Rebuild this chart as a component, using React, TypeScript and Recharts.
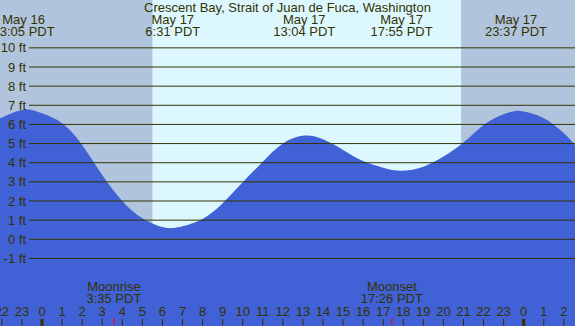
import React from 'react';
import { ComposedChart, Area, XAxis, YAxis, ReferenceArea, ReferenceLine } from 'recharts';

const TITLE = 'Crescent Bay, Strait of Juan de Fuca, Washington';

// tide curve: hours relative to May 17 00:00 PDT, height in ft
const tideHours = [-2.093, -0.917, 0, 1, 2, 3, 4, 5, 6, 6.517, 7, 8, 9, 10, 11, 12, 13.067, 14, 15, 16, 17, 17.917, 19, 20, 21, 22, 23, 23.617, 24, 25, 26, 26.557];
const tideFeet = [6.32, 6.77, 6.58, 6.06, 4.93, 3.36, 2.0, 1.1, 0.64, 0.59, 0.68, 1.06, 1.88, 2.98, 4.05, 5.0, 5.42, 5.22, 4.67, 4.09, 3.74, 3.58, 3.79, 4.32, 5.05, 5.97, 6.53, 6.7, 6.67, 6.32, 5.54, 4.93];

// high / low labels
const extremeHours = [-0.917, 6.517, 13.067, 17.917, 23.617];
const extremeDates = ['May 16', 'May 17', 'May 17', 'May 17', 'May 17'];
const extremeTimes = ['23:05 PDT', '6:31 PDT', '13:04 PDT', '17:55 PDT', '23:37 PDT'];

// moon events
const moonHours = [3.583, 17.433];
const moonNames = ['Moonrise', 'Moonset'];
const moonTimes = ['3:35 PDT', '17:26 PDT'];

// daylight
const sunriseHour = 5.515;
const sunsetHour = 20.88;

// axes
const hourTicks = [-2, -1, 0, 1, 2, 3, 4, 5, 6, 7, 8, 9, 10, 11, 12, 13, 14, 15, 16, 17, 18, 19, 20, 21, 22, 23, 24, 25, 26];
const hourLabels = ['22', '23', '0', '1', '2', '3', '4', '5', '6', '7', '8', '9', '10', '11', '12', '13', '14', '15', '16', '17', '18', '19', '20', '21', '22', '23', '0', '1', '2'];
const ftTicks = [-1, 0, 1, 2, 3, 4, 5, 6, 7, 8, 9, 10];
const ftLabels = ['-1 ft', '0 ft', '1 ft', '2 ft', '3 ft', '4 ft', '5 ft', '6 ft', '7 ft', '8 ft', '9 ft', '10 ft'];

const X_DOMAIN: [number, number] = [-2.093, 26.557];
const Y_DOMAIN: [number, number] = [-4.53, 12.5];
const GRID_START_HOUR = -0.648;

const TEXT = '#333300';
const NIGHT = '#b0c4de';
const DAY = '#ddf7ff';
const WATER = '#4161d6';
const FONT = 13;
const FAMILY = '"Liberation Sans", Arial, sans-serif';

const data = tideHours.map((h, i) => ({ h, ft: tideFeet[i] }));

const HourTick = (props: any) => {
  const { x, y, payload } = props;
  const i = hourTicks.indexOf(payload.value);
  const label = hourLabels[i];
  const thick = label === '0';
  return (
    <g>
      <line x1={x} x2={x} y1={y + 3} y2={y + 10} stroke={TEXT} strokeWidth={thick ? 3 : 1} />
      <text x={x} y={y} textAnchor="middle" fill={TEXT} fontSize={FONT} fontFamily={FAMILY}>{label}</text>
    </g>
  );
};

const MoonTick = (props: any) => {
  const { x, y, payload } = props;
  const i = moonHours.indexOf(payload.value);
  return (
    <g>
      <line x1={x} x2={x} y1={y + 3} y2={y + 10} stroke="#ff0000" strokeWidth={1} />
      <text x={x} y={y - 24} textAnchor="middle" fill={TEXT} fontSize={FONT} fontFamily={FAMILY}>{moonNames[i]}</text>
      <text x={x} y={y - 12} textAnchor="middle" fill={TEXT} fontSize={FONT} fontFamily={FAMILY}>{moonTimes[i]}</text>
    </g>
  );
};

const ExtremeTick = (props: any) => {
  const { x, y, payload } = props;
  const i = extremeHours.indexOf(payload.value);
  return (
    <g>
      <text x={x} y={y + 24} textAnchor="middle" fill={TEXT} fontSize={FONT} fontFamily={FAMILY}>{extremeDates[i]}</text>
      <text x={x} y={y + 36} textAnchor="middle" fill={TEXT} fontSize={FONT} fontFamily={FAMILY}>{extremeTimes[i]}</text>
    </g>
  );
};

export default function App() {
  return (
    <div style={{ position: 'absolute', left: 0, top: 0, width: 575, height: 326, fontFamily: FAMILY }}>
      <ComposedChart width={575} height={326} data={data} margin={{ top: 0, right: 0, bottom: 0, left: 0 }}>
        <XAxis
          dataKey="h"
          type="number"
          domain={X_DOMAIN}
          allowDataOverflow
          ticks={hourTicks}
          interval={0}
          orientation="bottom"
          mirror
          height={1}
          axisLine={false}
          tickLine={false}
          tickSize={7}
          tickMargin={3}
          tick={<HourTick />}
        />
        <XAxis
          xAxisId="moon"
          dataKey="h"
          type="number"
          domain={X_DOMAIN}
          allowDataOverflow
          ticks={moonHours}
          interval={0}
          orientation="bottom"
          mirror
          height={1}
          axisLine={false}
          tickLine={false}
          tickSize={7}
          tickMargin={3}
          tick={<MoonTick />}
        />
        <XAxis
          xAxisId="tide"
          dataKey="h"
          type="number"
          domain={X_DOMAIN}
          allowDataOverflow
          ticks={extremeHours}
          interval={0}
          orientation="top"
          mirror
          height={1}
          axisLine={false}
          tickLine={false}
          tickSize={0}
          tickMargin={0}
          tick={<ExtremeTick />}
        />
        <YAxis type="number" domain={Y_DOMAIN} allowDataOverflow hide />
        <ReferenceArea x1={X_DOMAIN[0]} x2={sunriseHour} fill={NIGHT} fillOpacity={1} stroke="none" ifOverflow="visible" />
        <ReferenceArea x1={sunriseHour} x2={sunsetHour} fill={DAY} fillOpacity={1} stroke="none" ifOverflow="visible" />
        <ReferenceArea x1={sunsetHour} x2={X_DOMAIN[1]} fill={NIGHT} fillOpacity={1} stroke="none" ifOverflow="visible" />
        <Area
          dataKey="ft"
          type="natural"
          stroke="none"
          fill={WATER}
          fillOpacity={1}
          baseValue="dataMin"
          isAnimationActive={false}
          dot={false}
          activeDot={false}
        />
        {ftTicks.map((v, i) => (
          <ReferenceLine
            key={v}
            segment={[{ x: GRID_START_HOUR, y: v }, { x: X_DOMAIN[1], y: v }]}
            stroke={TEXT}
            strokeWidth={1}
            ifOverflow="visible"
            label={{ value: ftLabels[i], position: 'left', offset: 3, fill: TEXT, fontSize: FONT }}
          />
        ))}
      </ComposedChart>
      <svg width={575} height={20} style={{ position: 'absolute', left: 0, top: 0, pointerEvents: 'none' }}>
        <text x={287.5} y={12} textAnchor="middle" fill={TEXT} fontSize={FONT} fontFamily={FAMILY}>{TITLE}</text>
      </svg>
    </div>
  );
}
